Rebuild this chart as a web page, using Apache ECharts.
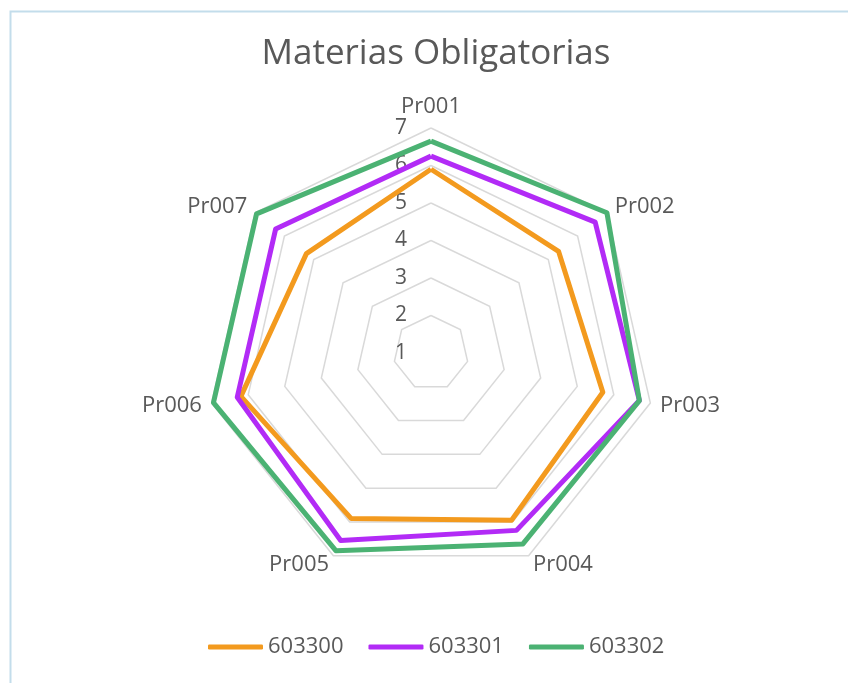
<!DOCTYPE html>
<html>
<head>
<meta charset="utf-8">
<script src="https://cdn.jsdelivr.net/npm/echarts@6/dist/echarts.min.js"></script>
<style>
html,body{margin:0;padding:0;background:#fff;}
#chart{width:848px;height:683px;}
</style>
</head>
<body>
<div id="chart"></div>
<script>
var categories = ['Pr001','Pr002','Pr003','Pr004','Pr005','Pr006','Pr007'];
var seriesNames = ['603300','603301','603302'];
var s603300 = [5.9, 5.35, 5.7, 5.95, 5.9, 6.2, 5.25];
var s603301 = [6.25, 6.6, 6.7, 6.25, 6.55, 6.3, 6.3];
var s603302 = [6.65, 7.0, 6.7, 6.65, 6.85, 6.95, 6.95];
var axisMin = 1, axisMax = 7;
var titleText = 'Materias Obligatorias';

var colors = ['#F39A1E', '#B22BF6', '#4BB273'];
var seriesValues = [s603300, s603301, s603302];
var FONT = '"Open Sans", sans-serif';
var TXT = '#595959';

// ECharts lays radar indicators counter-clockwise; reorder so they read clockwise.
var order = [0];
for (var k = categories.length - 1; k >= 1; k--) order.push(k);

var indicator = order.map(function (idx, i) {
  var o = { name: categories[idx], min: axisMin, max: axisMax };
  if (i === 0) o.axisLabel = { show: true };
  return o;
});

var chart = echarts.init(document.getElementById('chart'), null, { renderer: 'canvas' });
chart.setOption({
  animation: false,
  backgroundColor: '#fff',
  graphic: [{
    type: 'rect', left: 8, top: 9, z: -10,
    shape: { width: 900, height: 800 },
    style: { fill: 'none', stroke: '#C3DDEB', lineWidth: 2 }
  }],
  title: {
    text: titleText, left: 431, top: 32, textAlign: 'center',
    textStyle: { fontFamily: FONT, fontSize: 35, fontWeight: 'normal', color: TXT }
  },
  legend: {
    data: seriesNames, left: 208, top: 636, itemGap: 25, padding: 0,
    itemWidth: 55, itemHeight: 5, icon: 'roundRect',
    textStyle: { fontFamily: FONT, fontSize: 22, color: TXT }
  },
  radar: {
    center: [431, 353], radius: 225, startAngle: 90,
    shape: 'polygon', splitNumber: 6,
    indicator: indicator,
    axisName: { fontFamily: FONT, fontSize: 22, color: TXT },
    nameGap: 10,
    axisLine: { show: false },
    axisTick: { show: false },
    axisLabel: { show: false, fontFamily: FONT, fontSize: 21, color: TXT, margin: 24 },
    splitLine: { lineStyle: { color: '#D9D9D9', width: 1.5 } },
    splitArea: { show: false }
  },
  series: [{
    type: 'radar',
    symbol: 'none',
    data: seriesNames.map(function (n, i) {
      return {
        name: n,
        value: order.map(function (idx) { return seriesValues[i][idx]; }),
        lineStyle: { color: colors[i], width: 5 },
        itemStyle: { color: colors[i] }
      };
    })
  }]
});
</script>
</body>
</html>
